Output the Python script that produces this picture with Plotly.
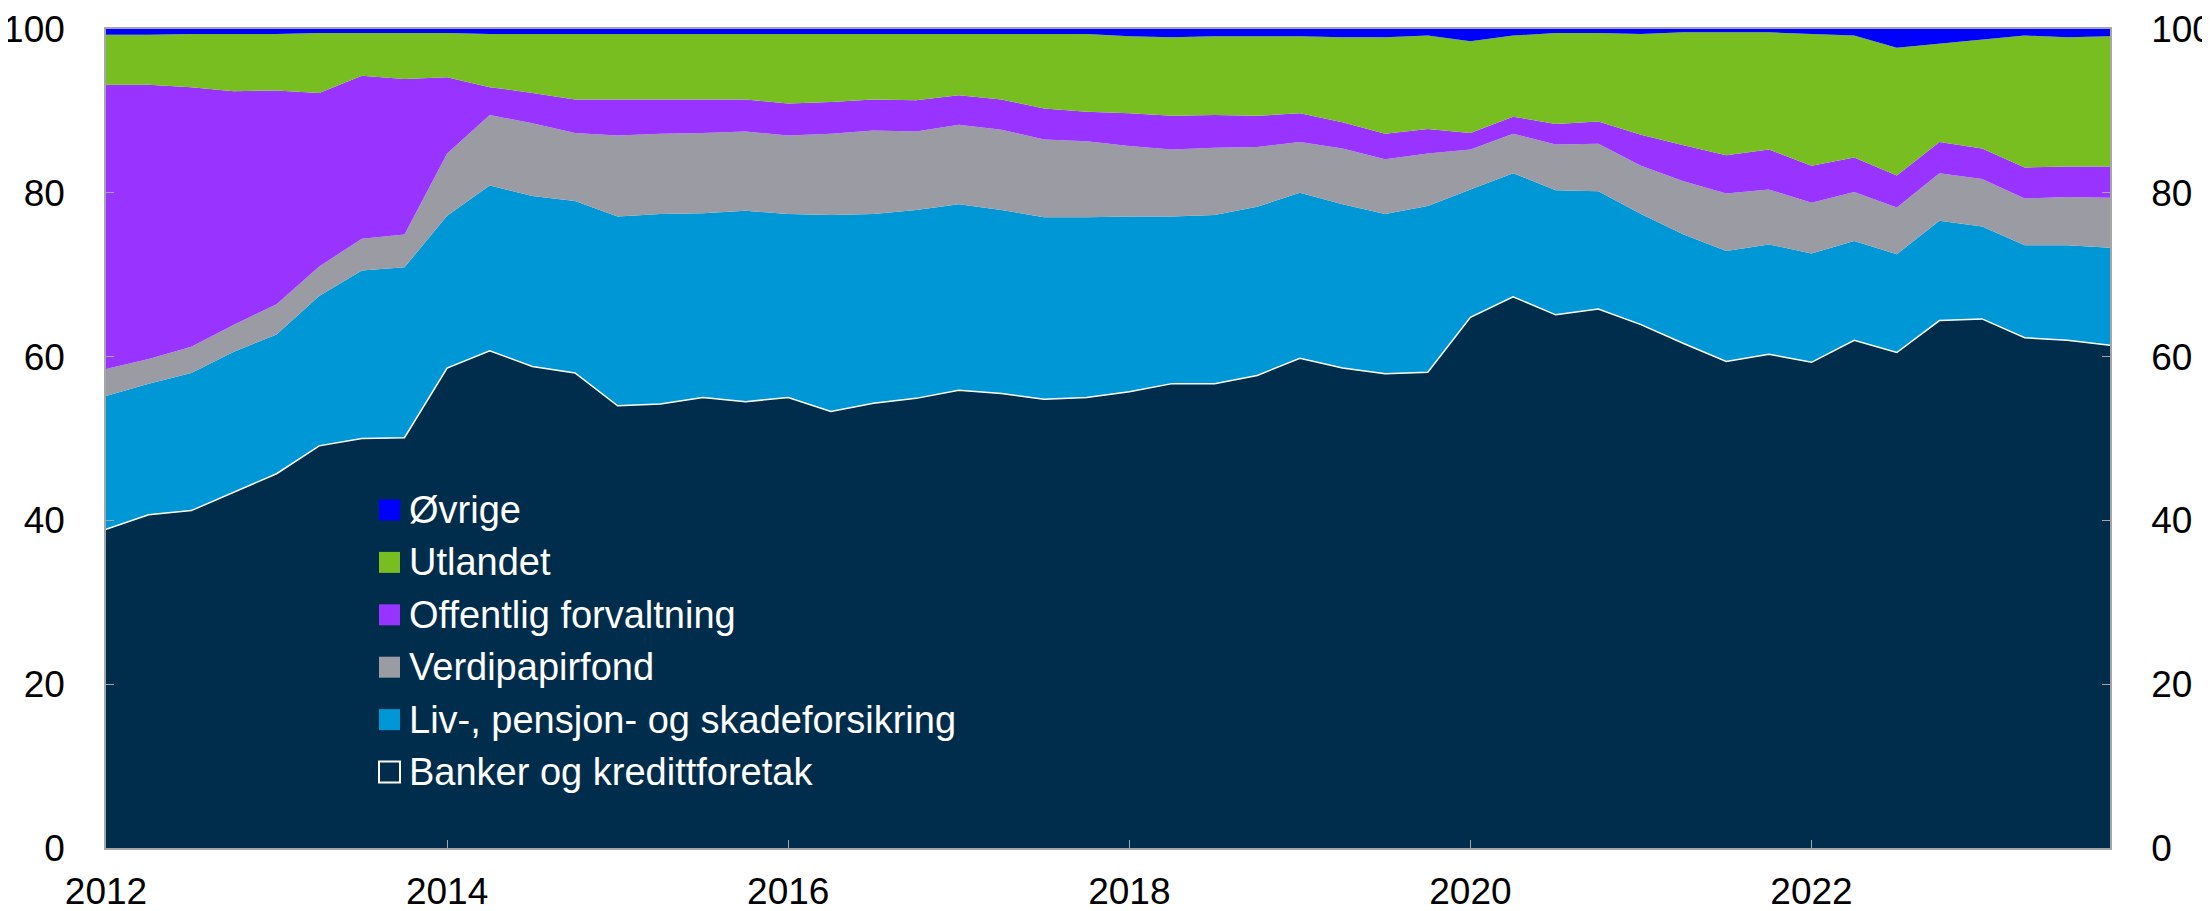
import plotly.graph_objects as go

# quarterly observations 2012Q1 - 2023Q4, share of holdings (per cent)
quarters = [2012 + i * 0.25 for i in range(48)]

banker = [38.9, 40.7, 41.2, 43.4, 45.7, 49.1, 50.0, 50.1, 58.6, 60.7, 58.8, 58.0,
          54.0, 54.2, 55.0, 54.5, 55.0, 53.3, 54.3, 54.9, 55.9, 55.5, 54.8, 55.0,
          55.7, 56.7, 56.7, 57.7, 59.8, 58.6, 57.9, 58.1, 64.8, 67.3, 65.1, 65.8,
          63.9, 61.6, 59.4, 60.3, 59.3, 62.0, 60.5, 64.4, 64.6, 62.3, 62.0, 61.4]
liv = [16.3, 16.0, 16.8, 17.2, 17.0, 18.3, 20.5, 20.8, 18.6, 20.2, 20.8, 21.0,
       23.1, 23.2, 22.5, 23.3, 22.4, 24.0, 23.1, 23.0, 22.7, 22.4, 22.2, 22.0,
       21.4, 20.4, 20.6, 20.6, 20.2, 20.0, 19.5, 20.3, 15.6, 15.1, 15.2, 14.4,
       13.5, 13.3, 13.5, 13.4, 13.3, 12.1, 12.0, 12.2, 11.3, 11.3, 11.6, 11.9]
verdipapirfond = [3.3, 3.0, 3.2, 3.3, 3.7, 3.6, 3.9, 4.0, 7.6, 8.6, 8.9, 8.3,
                  9.9, 9.8, 9.8, 9.7, 9.6, 9.9, 10.2, 9.6, 9.7, 9.8, 9.5, 9.3,
                  8.6, 8.2, 8.2, 7.3, 6.2, 6.8, 6.7, 6.4, 4.9, 4.8, 5.6, 5.8,
                  5.9, 6.5, 7.0, 6.7, 6.2, 6.0, 5.7, 5.8, 5.8, 5.7, 5.9, 6.1]
offentlig = [34.7, 33.5, 31.7, 28.5, 26.1, 21.2, 19.9, 19.0, 9.3, 3.4, 3.7, 4.1,
             4.4, 4.2, 4.1, 3.9, 3.9, 3.9, 3.8, 3.8, 3.6, 3.7, 3.8, 3.6,
             4.0, 4.1, 4.0, 3.8, 3.5, 3.2, 3.1, 3.0, 2.0, 2.1, 2.5, 2.7,
             3.8, 4.4, 4.7, 4.9, 4.5, 4.2, 3.9, 3.8, 3.7, 3.8, 3.7, 3.8]
utlandet = [6.1, 6.1, 6.5, 7.0, 6.9, 7.3, 5.2, 5.6, 5.4, 6.5, 7.2, 8.0,
            8.0, 8.0, 8.0, 8.0, 8.5, 8.3, 8.0, 8.1, 7.5, 8.0, 9.1, 9.5,
            9.4, 9.6, 9.6, 9.7, 9.4, 10.4, 11.8, 11.4, 11.2, 9.9, 11.1, 10.8,
            12.3, 13.8, 15.0, 14.3, 16.1, 14.9, 15.6, 12.0, 13.3, 16.1, 15.8, 15.9]
ovrige = [0.7, 0.7, 0.6, 0.6, 0.6, 0.5, 0.5, 0.5, 0.5, 0.6, 0.6, 0.6,
          0.6, 0.6, 0.6, 0.6, 0.6, 0.6, 0.6, 0.6, 0.6, 0.6, 0.6, 0.6,
          0.9, 1.0, 0.9, 0.9, 0.9, 1.0, 1.0, 0.8, 1.5, 0.8, 0.5, 0.5,
          0.6, 0.4, 0.4, 0.4, 0.6, 0.8, 2.3, 1.8, 1.3, 0.8, 1.0, 0.9]

series = [
    ("Banker og kredittforetak", banker, "#002D4B"),
    ("Liv-, pensjon- og skadeforsikring", liv, "#0097D6"),
    ("Verdipapirfond", verdipapirfond, "#9B9BA3"),
    ("Offentlig forvaltning", offentlig, "#9933FF"),
    ("Utlandet", utlandet, "#78BE20"),
    ("Øvrige", ovrige, "#0000FF"),
]

xticks = [2012, 2014, 2016, 2018, 2020, 2022]
yticks = [0, 20, 40, 60, 80, 100]

fig = go.Figure()
for name, vals, col in series:
    is_bank = name.startswith("Banker")
    fig.add_trace(go.Scatter(
        x=quarters, y=vals, name=name, stackgroup="one", mode="lines",
        fillcolor=col,
        line=dict(color="white" if is_bank else col, width=1.5 if is_bank else 0),
        showlegend=False, hoverinfo="skip"))

# invisible trace to carry the right-hand axis
fig.add_trace(go.Scatter(x=[2012], y=[0], yaxis="y2", mode="markers",
                         marker=dict(opacity=0), showlegend=False, hoverinfo="skip"))

# page body adds an 8px margin, figure is 8px smaller so the page stays 2210x911
W, H = 2202, 903
ML, MR, MT, MB = 98, 100, 21, 63
pw, ph = W - ML - MR, H - MT - MB


def px(x):
    return (x - ML) / pw


def py(y):
    return (H - MB - y) / ph


# legend drawn in the plot: square swatch + white label, newest series on top
shapes, annotations = [], []
row0, row_step, sw = 502, 52.4, 21
for k, (name, vals, col) in enumerate(reversed(series)):
    cy = row0 + k * row_step
    is_bank = name.startswith("Banker")
    shapes.append(dict(type="rect", xref="paper", yref="paper",
                       x0=px(371), x1=px(371 + sw), y0=py(cy + sw / 2), y1=py(cy - sw / 2),
                       fillcolor=col, line=dict(color="white" if is_bank else col,
                                                width=2 if is_bank else 0)))
    annotations.append(dict(text=name, xref="paper", yref="paper", x=px(399), y=py(cy),
                            xanchor="left", yanchor="middle", showarrow=False,
                            font=dict(size=38, color="white")))

axis_col = "#A6A6A6"
font = dict(family="Arial, Liberation Sans, sans-serif", size=37, color="black")

fig.update_layout(
    width=W, height=H,
    margin=dict(l=ML, r=MR, t=MT, b=MB, autoexpand=False),
    paper_bgcolor="white", plot_bgcolor="white",
    font=font,
    showlegend=False,
    shapes=shapes, annotations=annotations,
    xaxis=dict(range=[2012, 2023.75], tickvals=xticks, ticktext=[str(t) for t in xticks],
               showgrid=False, zeroline=False, showline=True, linecolor=axis_col,
               linewidth=1.5, mirror=True, ticks="inside", ticklen=8, tickcolor=axis_col,
               ticklabelstandoff=10, automargin=False),
    yaxis=dict(range=[0, 100], tickvals=yticks, showgrid=False, zeroline=False,
               showline=True, linecolor=axis_col, linewidth=1.5, ticks="inside",
               ticklen=8, tickcolor=axis_col, ticklabelstandoff=32, automargin=False),
    yaxis2=dict(range=[0, 100], tickvals=yticks, overlaying="y", side="right",
                showgrid=False, zeroline=False, showline=True, linecolor=axis_col,
                linewidth=1.5, ticks="inside", ticklen=8, tickcolor=axis_col,
                ticklabelstandoff=32, automargin=False),
)

fig.write_html("out.html")
